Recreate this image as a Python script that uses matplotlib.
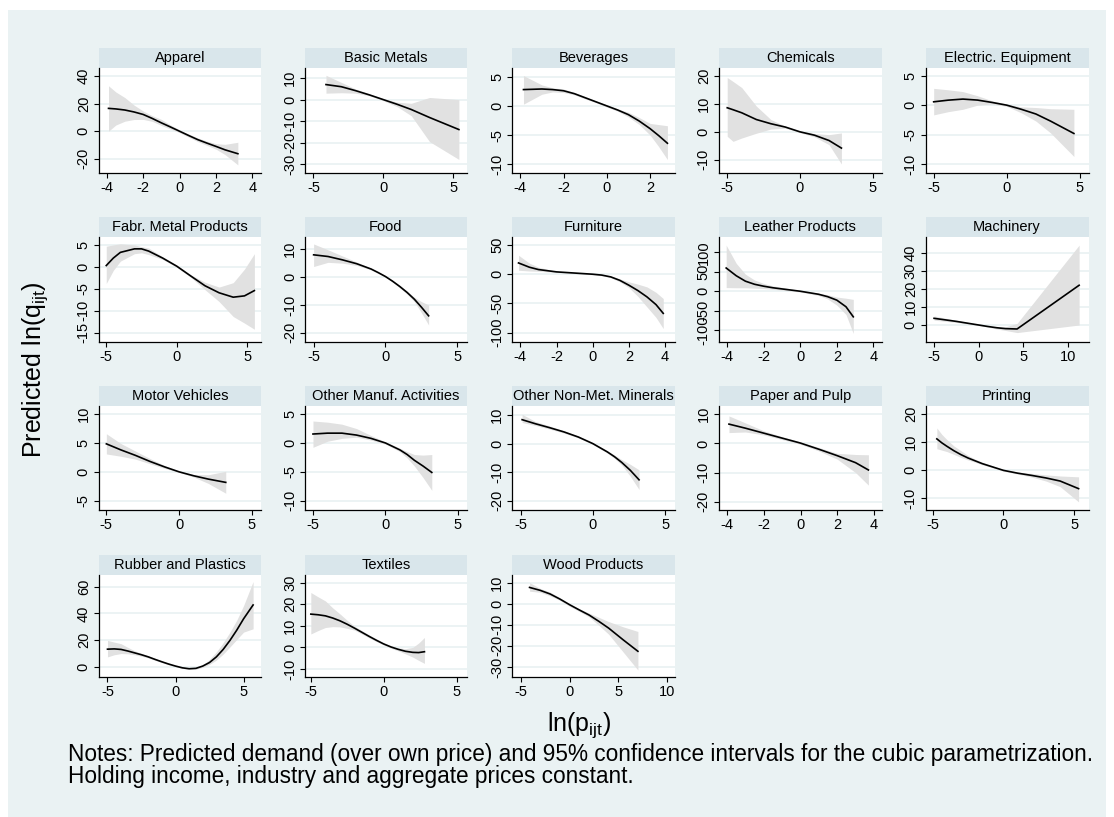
import matplotlib
matplotlib.use('Agg')
import matplotlib.pyplot as plt
from matplotlib.patches import Rectangle

plt.rcParams['font.family'] = ['Liberation Sans', 'DejaVu Sans']
plt.rcParams['mathtext.default'] = 'regular'
plt.rcParams['axes.unicode_minus'] = False

W, H = 1114, 817
BG = '#eaf2f3'
STRIP = '#d9e6eb'
BAND = '#e1e1e1'

# values: x = ln(p), fit = predicted ln(q), lo/hi = 95% CI
x_apparel = [-3.9, -3.5, -3, -2.5, -2, -1.5, -1, -0.5, 0, 0.5, 1, 1.5, 2, 2.5, 3.2]
fit_apparel = [16.6, 16.2, 15.4, 14, 12.2, 9.3, 6.1, 3.1, 0, -3.1, -6.1, -8.6, -11, -13.5, -16.3]
hi_apparel = [33, 28.5, 24.4, 19, 14.7, 11.3, 8.6, 4.6, 1, -2.0, -4.8, -7.2, -9, -9.5, -8]
lo_apparel = [0, 4.5, 7.3, 8.5, 8.6, 7.2, 4.2, 1.6, -1, -4.3, -7.5, -10.2, -13, -17, -24.4]

x_metals = [-4.1, -3, -2, -1, 0, 1, 2, 3.3, 5.4]
fit_metals = [7.0, 6.0, 4.2, 2.2, 0, -2.2, -4.6, -8.3, -13.9]
hi_metals = [11.3, 8.0, 5.0, 2.7, 0.5, -1.2, -1.7, 1.0, 0.0]
lo_metals = [3.0, 3.2, 3.0, 1.8, -0.5, -3.3, -7.5, -19.5, -27.8]

x_bev = [-3.85, -3, -2.5, -2, -1.5, -1, -0.5, 0, 0.5, 1, 1.5, 2, 2.4, 2.8]
fit_bev = [2.8, 2.9, 2.8, 2.6, 2.1, 1.4, 0.7, 0, -0.7, -1.5, -2.6, -3.9, -5.1, -6.4]
hi_bev = [5.2, 3.6, 3.1, 2.9, 2.3, 1.6, 0.85, 0.2, -0.5, -1.1, -2.0, -3.0, -3.2, -3.4]
lo_bev = [0.3, 2.0, 2.4, 2.3, 1.9, 1.2, 0.55, -0.2, -0.9, -1.9, -3.2, -5.0, -7.0, -9.2]

x_chem = [-5, -4.6, -4, -3, -2, -1, 0, 1, 2, 2.85]
fit_chem = [8.6, 7.9, 6.8, 4.4, 2.9, 1.7, 0, -1.2, -3.1, -5.8]
hi_chem = [19.4, 18, 15.8, 9.2, 4.4, 2.0, 0.3, -0.6, -1.0, -0.4]
lo_chem = [-1.6, -3.4, -2.2, -0.5, 1.0, 1.3, -0.3, -1.8, -4.6, -11.5]

x_elec = [-5, -4, -3, -2, -1, 0, 1, 2, 3, 4.6]
fit_elec = [0.57, 0.85, 1.03, 0.86, 0.46, 0, -0.7, -1.5, -2.7, -4.8]
hi_elec = [2.85, 2.6, 2.3, 1.6, 0.74, 0.2, -0.3, -0.4, -0.6, -0.7]
lo_elec = [-1.65, -1.1, -0.7, 0.0, 0.2, -0.2, -1.3, -2.7, -4.7, -8.7]

x_fabr = [-5, -4.5, -4, -3, -2.5, -2, -1, 0, 1, 2, 3, 4, 4.8, 5.5]
fit_fabr = [0.3, 2.0, 3.3, 4.1, 4.1, 3.6, 2.0, 0.15, -2.1, -4.3, -5.9, -6.9, -6.6, -5.4]
hi_fabr = [4.7, 5.0, 5.25, 5.0, 4.6, 4.3, 2.3, 0.4, -1.8, -3.5, -4.6, -3.6, -0.5, 3.0]
lo_fabr = [-3.8, -0.8, 1.3, 3.0, 3.2, 2.8, 1.7, -0.1, -2.4, -5.2, -7.9, -11.3, -12.8, -14.2]

x_food = [-5, -4, -3, -2, -1, -0.5, 0, 0.5, 1, 1.5, 2, 2.5, 3]
fit_food = [8.0, 7.4, 6.2, 4.8, 2.9, 1.6, 0.2, -1.5, -3.4, -5.5, -7.9, -10.8, -13.9]
hi_food = [11.9, 9.8, 7.6, 5.4, 3.2, 1.9, 0.4, -1.2, -3.0, -5.0, -7.2, -8.8, -10.0]
lo_food = [3.8, 5.3, 5.0, 4.2, 2.6, 1.3, 0.0, -1.8, -3.9, -6.1, -8.8, -12.8, -17.2]

x_furn = [-4.1, -3.5, -3, -2, -1, 0, 0.5, 1, 1.5, 2, 2.5, 3, 3.5, 3.9]
fit_furn = [19.3, 12, 8, 4, 2, 0, -1.5, -4.6, -10.5, -18.8, -28, -38.8, -52, -67]
hi_furn = [32.5, 19, 12, 5, 3, 1, -0.5, -3, -8, -13, -17, -21.7, -31, -41.6]
lo_furn = [6.8, 5.5, 5, 3, 1, -1, -2.5, -6, -13, -23, -38, -56, -74, -93]

x_leather = [-4.05, -3.5, -3, -2.5, -2, -1.5, -1, 0, 1, 1.5, 2, 2.5, 2.9]
fit_leather = [60, 40, 26, 18, 13, 9, 6, 0, -7.8, -14, -23, -40, -66]
hi_leather = [119, 72, 44, 29, 20, 14, 10, 2, -5, -9, -15, -18, -21]
lo_leather = [9.5, 9, 9, 8, 7, 5, 3, -2, -11, -20, -36, -60, -109]

x_mach = [-5, -2.5, 0, 1, 2, 3, 4.3, 11.25]
fit_mach = [3.7, 2.0, 0.0, -0.8, -1.5, -2.0, -2.2, 22]
hi_mach = [5, 2.6, 0.3, -0.5, -1.0, -1.0, 0.9, 44.2]
lo_mach = [2.7, 1.4, -0.3, -1.1, -2.2, -3.0, -4.2, 0.0]

x_motor = [-5, -4, -3, -2, -1, 0, 1, 2, 3.2]
fit_motor = [4.85, 3.8, 2.85, 1.8, 0.86, 0, -0.68, -1.25, -1.82]
hi_motor = [6.6, 4.9, 3.6, 2.3, 1.1, 0.1, -0.45, -0.5, 0.1]
lo_motor = [3.1, 2.7, 2.2, 1.4, 0.6, -0.1, -0.9, -2.0, -3.7]

x_othman = [-5, -4, -3, -2, -1, 0, 1, 1.5, 2, 2.6, 3.2]
fit_othman = [1.55, 1.7, 1.7, 1.37, 0.8, 0, -1.2, -2.0, -3.0, -4.0, -5.1]
hi_othman = [3.8, 3.6, 3.25, 2.5, 1.3, 0.2, -0.9, -1.5, -2.0, -2.1, -2.0]
lo_othman = [-0.75, 0.3, 0.8, 1.0, 0.5, -0.2, -1.5, -2.6, -4.0, -6.0, -8.2]

x_nonmet = [-4.9, -4, -3, -2, -1, 0, 1, 1.5, 2, 2.6, 3.2]
fit_nonmet = [8.4, 7.0, 5.6, 4.1, 2.3, 0, -2.9, -4.6, -6.6, -9.4, -12.7]
hi_nonmet = [10.3, 7.8, 6.2, 4.5, 2.6, 0.3, -2.5, -4.0, -5.6, -7.3, -9.2]
lo_nonmet = [7.4, 6.4, 5.1, 3.7, 2.0, -0.3, -3.3, -5.2, -7.5, -11.5, -16.1]

x_paper = [-3.9, -3, -2, -1, 0, 1, 2, 3, 3.7]
fit_paper = [6.6, 5.2, 3.5, 1.8, 0.1, -2.0, -4.2, -6.6, -9.1]
hi_paper = [9.4, 7.0, 4.3, 2.3, 0.5, -1.4, -3.4, -3.8, -3.9]
lo_paper = [3.7, 3.9, 2.9, 1.3, -0.3, -2.6, -5.4, -10, -14.3]

x_print = [-4.7, -4.35, -4, -3.5, -3, -2.5, -2, -1.5, -1, -0.5, 0, 1, 2, 3, 4, 5.3]
fit_print = [11.2, 9.8, 8.6, 7.0, 5.6, 4.4, 3.4, 2.4, 1.6, 0.8, 0, -1.0, -1.8, -2.7, -3.8, -6.5]
hi_print = [15.1, 12.8, 11, 8.7, 7, 5.3, 4.0, 2.9, 2.0, 1.1, 0.3, -0.6, -1.1, -1.6, -2.0, -2.3]
lo_print = [7.7, 7.2, 6.7, 5.7, 4.6, 3.7, 2.9, 2.0, 1.3, 0.5, -0.3, -1.3, -2.4, -3.8, -5.8, -11.2]

x_rubber = [-5, -4.5, -4, -3.5, -3, -2.5, -2, -1.5, -1, -0.5, 0, 0.5, 1, 1.5, 2, 2.5,
            3, 3.5, 4, 4.5, 5, 5.7]
fit_rubber = [13.2, 13.4, 13.0, 11.8, 10.4, 9.0, 7.4, 5.5, 3.7, 2.0, 0.5, -0.8, -1.5, -1.2, 0.5, 3.2,
              7.4, 13, 19.8, 27.5, 36, 46.4]
hi_rubber = [19.8, 18.5, 17.3, 14.5, 12, 10, 8.2, 6.2, 4.3, 2.6, 1, -0.3, -1.0, -0.6, 1.5, 5.5,
             11.2, 18, 26, 35, 45.9, 64]
lo_rubber = [7.4, 9, 9.9, 9.7, 9, 7.9, 6.6, 4.8, 3.1, 1.4, 0, -1.3, -2.0, -1.8, -0.5, 1.8,
             5.0, 9.5, 14.9, 20.5, 26, 28.5]

x_text = [-5, -4.5, -4, -3.5, -3, -2.5, -2, -1.5, -1, -0.5, 0, 0.5, 1, 1.5, 2, 2.4, 2.8]
fit_text = [15.4, 15.1, 14.6, 13.6, 12.3, 10.7, 8.9, 7.0, 5.1, 3.3, 1.6, 0.2, -0.9, -1.8, -2.3, -2.4, -2.0]
hi_text = [25.4, 23.4, 21.5, 18.3, 15.5, 12.5, 9.8, 7.8, 5.8, 3.9, 2.1, 0.8, -0.2, -0.6, 0.0, 2.0, 4.6]
lo_text = [6.2, 7.8, 9.2, 9.6, 9.5, 8.8, 8.0, 6.2, 4.4, 2.7, 1.1, -0.4, -1.6, -3.0, -4.5, -6.0, -7.4]

x_wood = [-4.1, -3, -2, -1, 0, 1, 2, 3, 4, 5.5, 7.0]
fit_wood = [7.7, 6.3, 4.6, 2.2, -0.5, -3.0, -5.4, -8.4, -11.6, -17.2, -22.6]
hi_wood = [10, 7.2, 5.5, 2.8, 0, -2.4, -4.5, -6.5, -8.5, -11, -13.2]
lo_wood = [5.9, 5.4, 3.7, 1.6, -1.3, -3.7, -6.3, -10.3, -14.5, -23, -31.5]

TITLES = ['Apparel', 'Basic Metals', 'Beverages', 'Chemicals', 'Electric. Equipment',
          'Fabr. Metal Products', 'Food', 'Furniture', 'Leather Products', 'Machinery',
          'Motor Vehicles', 'Other Manuf. Activities', 'Other Non-Met. Minerals',
          'Paper and Pulp', 'Printing', 'Rubber and Plastics', 'Textiles', 'Wood Products']

SERIES = [
    (x_apparel, fit_apparel, lo_apparel, hi_apparel),
    (x_metals, fit_metals, lo_metals, hi_metals),
    (x_bev, fit_bev, lo_bev, hi_bev),
    (x_chem, fit_chem, lo_chem, hi_chem),
    (x_elec, fit_elec, lo_elec, hi_elec),
    (x_fabr, fit_fabr, lo_fabr, hi_fabr),
    (x_food, fit_food, lo_food, hi_food),
    (x_furn, fit_furn, lo_furn, hi_furn),
    (x_leather, fit_leather, lo_leather, hi_leather),
    (x_mach, fit_mach, lo_mach, hi_mach),
    (x_motor, fit_motor, lo_motor, hi_motor),
    (x_othman, fit_othman, lo_othman, hi_othman),
    (x_nonmet, fit_nonmet, lo_nonmet, hi_nonmet),
    (x_paper, fit_paper, lo_paper, hi_paper),
    (x_print, fit_print, lo_print, hi_print),
    (x_rubber, fit_rubber, lo_rubber, hi_rubber),
    (x_text, fit_text, lo_text, hi_text),
    (x_wood, fit_wood, lo_wood, hi_wood),
]

# axis ranges and ticks per panel: (xlim, ylim, xticks, yticks)
AXES = [
    ((-4.45, 4.47), (-30.3, 45.9), [-4, -2, 0, 2, 4], [-20, 0, 20, 40]),
    ((-5.6, 5.98), (-34.1, 14.7), [-5, 0, 5], [-30, -20, -10, 0, 10]),
    ((-4.38, 3.15), (-11.5, 6.5), [-4, -2, 0, 2], [-10, -5, 0, 5]),
    ((-5.6, 5.64), (-14.7, 22.8), [-5, 0, 5], [-10, 0, 10, 20]),
    ((-5.56, 5.6), (-11.5, 6.3), [-5, 0, 5], [-10, -5, 0, 5]),
    ((-5.55, 5.97), (-17.1, 6.8), [-5, 0, 5], [-15, -10, -5, 0, 5]),
    ((-5.6, 5.67), (-23.3, 14.4), [-5, 0, 5], [-20, -10, 0, 10]),
    ((-4.46, 4.55), (-116, 63.7), [-4, -2, 0, 2, 4], [-100, -50, 0, 50]),
    ((-4.47, 4.47), (-131, 140), [-4, -2, 0, 2, 4], [-100, -50, 0, 50, 100]),
    ((-5.96, 12.3), (-9.4, 48.7), [-5, 0, 5, 10], [0, 10, 20, 30, 40]),
    ((-5.54, 5.62), (-6.6, 11.4), [-5, 0, 5], [-5, 0, 5, 10]),
    ((-5.55, 5.63), (-11.6, 6.4), [-5, 0, 5], [-10, -5, 0, 5]),
    ((-5.6, 5.69), (-23.3, 13.2), [-5, 0, 5], [-20, -10, 0, 10]),
    ((-4.47, 4.44), (-22.8, 12.8), [-4, -2, 0, 2, 4], [-20, -10, 0, 10]),
    ((-5.5, 6.0), (-14.1, 22.9), [-5, 0, 5], [-10, 0, 10, 20]),
    ((-5.66, 6.28), (-7.7, 68.9), [-5, 0, 5], [0, 20, 40, 60]),
    ((-5.4, 5.72), (-13.7, 33.5), [-5, 0, 5], [-10, 0, 10, 20, 30]),
    ((-5.9, 10.8), (-34.8, 13.6), [-5, 0, 5, 10], [-30, -20, -10, 0, 10]),
]

# panel grid in pixels
COL_L = [98.5, 305, 512, 718.5, 925.5]
COL_R = [261, 467, 675, 882, 1088.5]
ROW_TOP = [48, 217, 386, 555]
ROW_BOT = [173, 342, 510, 677]
STRIP_H = 20


def fig_box(l, t, r, b):
    return [l / W, 1 - b / H, (r - l) / W, (b - t) / H]


fig = plt.figure(figsize=(W / 100, H / 100), dpi=100, facecolor='white')
fig.add_artist(Rectangle((8 / W, 0), (1106 - 8) / W, 1 - 10 / H,
                         transform=fig.transFigure, facecolor=BG, edgecolor='none', zorder=-10))

for i, (title, (x, fit, lo, hi), (xlim, ylim, xt, yt)) in enumerate(zip(TITLES, SERIES, AXES)):
    row, col = divmod(i, 5)
    l, r = COL_L[col], COL_R[col]
    top, bot = ROW_TOP[row], ROW_BOT[row]

    # strip title
    fig.add_artist(Rectangle((l / W, 1 - (top + STRIP_H) / H), (r - l) / W, STRIP_H / H,
                             transform=fig.transFigure, facecolor=STRIP, edgecolor='none', zorder=-5))
    fig.text((l + r) / 2 / W, 1 - (top + STRIP_H / 2) / H, title,
             ha='center', va='center', fontsize=10.5)

    ax = fig.add_axes(fig_box(l, top + STRIP_H, r, bot))
    ax.set_facecolor('white')
    ax.fill_between(x, lo, hi, color=BAND, lw=0, zorder=2)
    ax.plot(x, fit, color='black', lw=1.2, zorder=3)
    ax.set_xlim(*xlim)
    ax.set_ylim(*ylim)
    ax.set_xticks(xt)
    ax.set_yticks(yt)
    ax.grid(axis='y', color=BG, lw=1.3)
    ax.set_axisbelow(True)
    for s in ['top', 'right']:
        ax.spines[s].set_visible(False)
    for s in ['left', 'bottom']:
        ax.spines[s].set_linewidth(0.9)
    ax.tick_params(direction='out', length=3.5, width=0.8, labelsize=10.5, pad=2)
    ax.tick_params(axis='y', labelrotation=90)
    for lab in ax.get_yticklabels():
        lab.set_va('center')

fig.text(35 / W, 1 - 370 / H, r'Predicted ln(q$_{ijt}$)', rotation=90,
         ha='center', va='center', fontsize=18)
fig.text(579 / W, 1 - 725 / H, r'ln(p$_{ijt}$)', ha='center', va='center', fontsize=18)
fig.text(68 / W, 1 - 755 / H,
         'Notes: Predicted demand (over own price) and 95% confidence intervals for the cubic parametrization.',
         ha='left', va='center', fontsize=16.3)
fig.text(68 / W, 1 - 777 / H, 'Holding income, industry and aggregate prices constant.',
         ha='left', va='center', fontsize=16.3)

fig.savefig('out.png', dpi=100, facecolor='white')
